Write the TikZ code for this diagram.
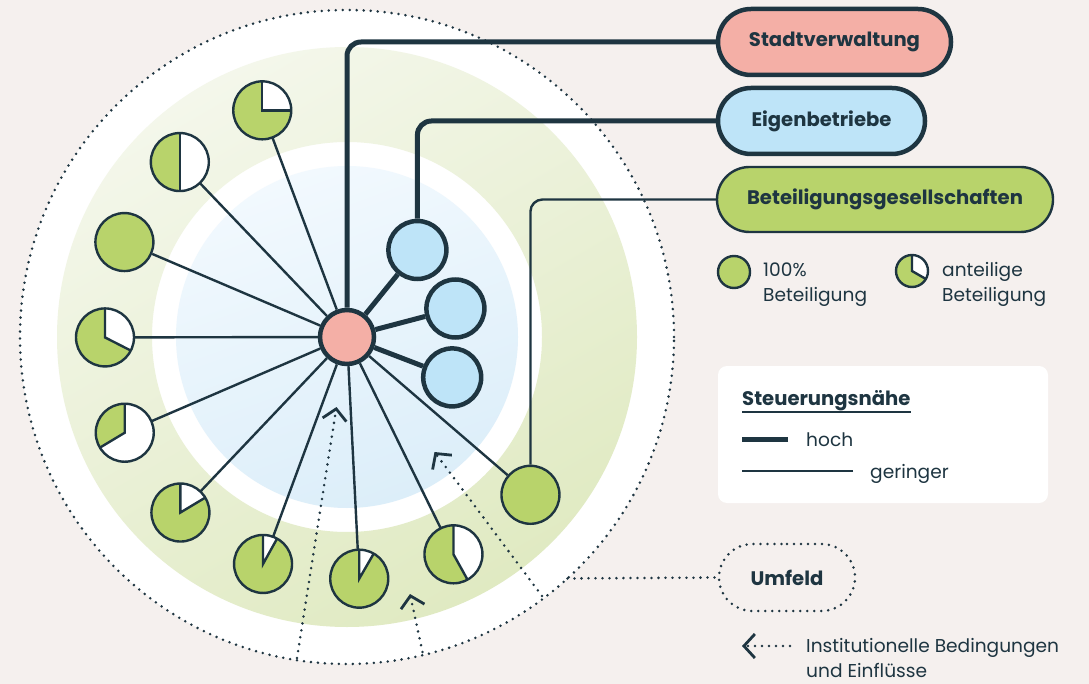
\documentclass[tikz,border=0pt]{standalone}
\usepackage{fontspec}
\setmainfont{Poppins}
\usetikzlibrary{positioning,calc,arrows.meta,shapes.misc}

\definecolor{navy}{HTML}{1E3541}
\definecolor{paper}{HTML}{F5F0EE}
\definecolor{salmon}{HTML}{F4AFA6}
\definecolor{skyblue}{HTML}{BEE4F8}
\definecolor{leaf}{HTML}{B8D36B}
\definecolor{ringtop}{HTML}{F4F7EB}
\definecolor{ringbot}{HTML}{E0EAC2}
\definecolor{coretop}{HTML}{F2F9FE}
\definecolor{corebot}{HTML}{DCEEF9}

\tikzset{
  hubnode/.style={circle, draw=navy, fill=salmon, line width=4.5pt, minimum size=54pt, inner sep=0pt},
  ownnode/.style={circle, draw=navy, fill=skyblue, line width=4.5pt, minimum size=58pt, inner sep=0pt},
  share/.style={circle, fill=leaf, minimum size=58pt, inner sep=0pt},
  linkthick/.style={draw=navy, line width=5pt},
  linkthin/.style={draw=navy, line width=2.4pt},
  dotline/.style={draw=navy, line width=2.8pt, line cap=round, dash pattern=on 0pt off 7pt},
  chevron/.style={-{Straight Barb[length=11pt, width=24pt, line width=2.8pt]}},
  boldtext/.style={font=\fontsize{19.6}{24}\selectfont\bfseries},
  tagbox/.style={rounded rectangle, draw=navy, minimum height=66pt, inner sep=0pt, boldtext},
  plain/.style={inner sep=0pt, align=left}
}

\begin{document}
\begin{tikzpicture}[x=1pt, y=1pt, font=\fontsize{18.6}{25}\selectfont, text=navy]
  % page
  \useasboundingbox (0,0) rectangle (1089,-684);
  \fill[paper] (0,0) rectangle (1089,-684);

  % rings round the city hall
  \coordinate (mid) at (347,-337);
  \fill[white] (mid) circle (327pt);
  \shade[even odd rule, top color=ringtop, bottom color=ringbot, shading angle=30]
    (mid) circle (290pt) circle (195pt);
  \shade[top color=coretop, bottom color=corebot, shading angle=20] (mid) circle (171pt);
  \draw[dotline] (mid) circle (327pt);

  % outside influences
  \coordinate (tail1) at (297,-658);
  \coordinate (tip1) at (336.5,-407);
  \coordinate (tail2) at (422.5,-652);
  \coordinate (tip2) at (410,-594);
  \coordinate (tail3) at (542,-596);
  \coordinate (tip3) at (434.5,-452);
  \foreach \k in {1,2,3}
    \draw[dotline, chevron] (tail\k) -- (tip\k);

  % the city hall and its own enterprises
  \node[hubnode] (hub) at (mid) {};
  \node[ownnode] (e1) at (417.4,-250) {};
  \node[ownnode] (e2) at (455.4,-308.5) {};
  \node[ownnode] (e3) at (452.2,-377.4) {};

  % shareholdings, partly owned
  \foreach \n/\w in {1/0, 2/-90, 4/-27, 5/-149, 6/31, 7/61, 8/60, 9/-61} {
    \node[share] (p\n) at ($(hub)+({110.5+23.2*(\n-1)}:242pt)$) {};
    \fill[white] (p\n.center) -- ++(\w:29pt) arc[start angle=\w, end angle=90, radius=29pt] -- cycle;
    \draw[linkthin] (p\n.center) ++(\w:29pt) -- (p\n.center) -- ++(0,29pt);
    \draw[linkthin] (p\n.center) circle (29pt);
  }
  % shareholdings, fully owned
  \foreach \n in {3,10}
    \node[share, draw=navy, line width=2.4pt] (p\n) at ($(hub)+({110.5+23.2*(\n-1)}:242pt)$) {};

  % links from the hub
  \foreach \n in {1,...,10}
    \draw[linkthin] (hub) -- (p\n);
  \foreach \e in {e1,e2,e3}
    \draw[linkthick] (hub) -- (\e);

  % the three groups
  \node[tagbox, fill=salmon, line width=4.5pt, minimum width=233pt] (stadt) at (834.5,-42) {Stadtverwaltung};
  \node[tagbox, fill=skyblue, line width=4.5pt, minimum width=207pt] (eigen) at (821.5,-121) {Eigenbetriebe};
  \node[tagbox, fill=leaf, line width=2.4pt, minimum width=336pt, minimum height=65pt] (beteil) at (885,-199.5) {Beteiligungsgesellschaften};

  \draw[linkthick, rounded corners=14pt] (hub.north) |- (stadt.west);
  \draw[linkthick, rounded corners=14pt] (e1.north) |- (eigen.west);
  \draw[linkthin, rounded corners=12pt] (p10.north) |- (beteil.west);

  % key for the shares
  \node[share, draw=navy, line width=2.4pt, minimum size=32pt] (fullkey) at (734,-272) {};
  \node[plain, anchor=base west] (fulltext) at (763,-302) {100\%\\Beteiligung};
  \node[share, minimum size=32pt] (partkey) at (912,-271) {};
  \fill[white] (partkey.center) -- ++(-30:16pt) arc[start angle=-30, end angle=90, radius=16pt] -- cycle;
  \draw[linkthin] (partkey.center) ++(-30:16pt) -- (partkey.center) -- ++(0,16pt);
  \draw[linkthin] (partkey.center) circle (16pt);
  \node[plain, anchor=base west] (parttext) at (942,-302) {anteilige\\Beteiligung};

  % key for the lines
  \node[fill=white, rounded corners=9pt, minimum width=330pt, minimum height=137pt, inner sep=0pt] (panel) at (883,-434.5) {};
  \node[plain, anchor=base west, boldtext] (paneltitle) at (742,-405) {Steuerungsnähe};
  \draw[navy, line width=2pt] ([yshift=-1pt]paneltitle.south west) -- ([yshift=-1pt]paneltitle.south east);
  \node[plain, anchor=base west] (hoch) at (806,-446.5) {hoch};
  \node[plain, anchor=base west] (geringer) at (870,-478) {geringer};
  \draw[linkthick] ($(hoch.base west)+(-18,7.5)$) -- ++(-46,0);
  \draw[linkthin] ($(geringer.base west)+(-17,7)$) -- ++(-111,0);

  % surroundings
  \node[tagbox, dotline, minimum width=136pt, minimum height=67pt] (umfeld) at (787,-577.5) {Umfeld};
  \coordinate (rim) at ($(mid)+(-47.6:327pt)$);
  \draw[dotline] (rim) -- (umfeld.west);

  % key for the influences
  \node[plain, anchor=base west] (instext) at (806,-677) {Institutionelle Bedingungen\\und Einflüsse};
  \coordinate (inskey) at (790,-646);
  \draw[dotline, chevron] (inskey) -- ++(-48,0);
\end{tikzpicture}
\end{document}
